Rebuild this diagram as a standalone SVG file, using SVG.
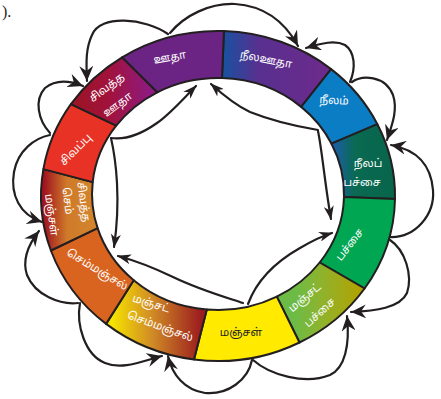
<svg xmlns="http://www.w3.org/2000/svg" width="441" height="399" viewBox="0 0 441 399">
<style>
.seg{stroke:#231f20;stroke-width:2;stroke-linejoin:round}
.lbl{font-family:"Noto Sans Tamil","Lohit Tamil","Latha","Noto Sans",sans-serif;font-size:11px;fill:#ffffff;text-anchor:middle;dominant-baseline:central}
.con path{fill:none;stroke:#231f20;stroke-width:2.2;stroke-linecap:round}
.in{marker-end:url(#ah)}
.out{marker-end:url(#ah2)}
</style>
<defs>
<marker id="ah" viewBox="0 0 14 10" refX="13" refY="5" markerWidth="14" markerHeight="10" markerUnits="userSpaceOnUse" orient="auto">
<path d="M0,0 L14,5 L0,10 L4,5 Z" fill="#231f20"/>
</marker>
<marker id="ah2" viewBox="0 0 16 14" refX="15" refY="7" markerWidth="16" markerHeight="14" markerUnits="userSpaceOnUse" orient="auto">
<path d="M0,0 L15,7 L0,14 L5,7 Z" fill="#231f20"/>
</marker>
<linearGradient id="gBV" gradientUnits="userSpaceOnUse" x1="224" y1="0" x2="330" y2="0">
<stop offset="0" stop-color="#1a50a0"/><stop offset="0.32" stop-color="#58308f"/><stop offset="1" stop-color="#6d2a8c"/>
</linearGradient>
<linearGradient id="gBG" gradientUnits="userSpaceOnUse" x1="333" y1="0" x2="395" y2="0">
<stop offset="0" stop-color="#1b5ea9"/><stop offset="0.35" stop-color="#0a6a52"/><stop offset="1" stop-color="#06654a"/>
</linearGradient>
<linearGradient id="gYG" gradientUnits="userSpaceOnUse" x1="295" y1="0" x2="362" y2="0">
<stop offset="0" stop-color="#6cbb46"/><stop offset="0.4" stop-color="#8fb32c"/><stop offset="1" stop-color="#b3a100"/>
</linearGradient>
<linearGradient id="gYO" gradientUnits="userSpaceOnUse" x1="112" y1="0" x2="202" y2="0">
<stop offset="0" stop-color="#f6e300"/><stop offset="0.45" stop-color="#d08a26"/><stop offset="1" stop-color="#9b1a1e"/>
</linearGradient>
<linearGradient id="gRO" gradientUnits="userSpaceOnUse" x1="44" y1="0" x2="95" y2="0">
<stop offset="0" stop-color="#a0141f"/><stop offset="0.45" stop-color="#cf7a2a"/><stop offset="1" stop-color="#d3852c"/>
</linearGradient>
<linearGradient id="gRV" gradientUnits="userSpaceOnUse" x1="75" y1="0" x2="152" y2="0">
<stop offset="0" stop-color="#9c1426"/><stop offset="0.45" stop-color="#a1123c"/><stop offset="1" stop-color="#8d1b83"/>
</linearGradient>
</defs>
<rect width="441" height="399" fill="#ffffff"/>
<text x="2" y="17" font-family="Liberation Serif" font-size="16" fill="#231f20">).</text>

<g id="node-neelaoodha">
<path class="seg" fill="url(#gBV)" d="M223.9,31.1 A177,165 0 0 1 331.1,69.1 L301.2,106.9 A126,116 0 0 0 222,78.1 Z"/>
<text class="lbl" transform="translate(266,60) rotate(11)">நீலஊதா</text>
</g>
<g id="node-neelam">
<path class="seg" fill="#0b7dc5" d="M331.1,69.1 A177,165 0 0 1 377.4,124.2 L331.5,143.7 A126,116 0 0 0 301.2,106.9 Z"/>
<text class="lbl" transform="translate(334,101) rotate(3)">நீலம்</text>
</g>
<g id="node-neelappachai">
<path class="seg" fill="url(#gBG)" d="M377.4,124.2 A177,165 0 0 1 395,198.9 L344,197 A126,116 0 0 0 331.5,143.7 Z"/>
<text class="lbl" transform="translate(368,164)">நீலப்</text>
<text class="lbl" transform="translate(362,183)">பச்சை</text>
</g>
<g id="node-pachai">
<path class="seg" fill="#00a651" d="M395,198.9 A177,165 0 0 1 364.6,288.5 L319.7,262.5 A126,116 0 0 0 344,197 Z"/>
<text class="lbl" transform="translate(350,245) rotate(-52)">பச்சை</text>
</g>
<g id="node-manjatpachai">
<path class="seg" fill="url(#gYG)" d="M364.6,288.5 A177,165 0 0 1 299.5,342.5 L276.8,296.6 A126,116 0 0 0 319.7,262.5 Z"/>
<text class="lbl" transform="translate(305,298) rotate(-40)">மஞ்சட்</text>
<text class="lbl" transform="translate(320,313) rotate(-42)">பச்சை</text>
</g>
<g id="node-manjal">
<path class="seg" fill="#ffea00" d="M299.5,342.5 A177,165 0 0 1 194,359.5 L206.8,309.5 A126,116 0 0 0 276.8,296.6 Z"/>
<text class="lbl" style="fill:#231f20" transform="translate(241,333)">மஞ்சள்</text>
</g>
<g id="node-manjatsemmanjal">
<path class="seg" fill="url(#gYO)" d="M194,359.5 A177,165 0 0 1 106.1,323.9 L133.7,280.2 A126,116 0 0 0 206.8,309.5 Z"/>
<text class="lbl" transform="translate(151,304) rotate(17)">மஞ்சட்</text>
<text class="lbl" transform="translate(160,327) rotate(20)">செம்மஞ்சல்</text>
</g>
<g id="node-semmanjal">
<path class="seg" fill="#d8641f" d="M106.1,323.9 A177,165 0 0 1 50.9,250.5 L97.6,228.1 A126,116 0 0 0 133.7,280.2 Z"/>
<text class="lbl" transform="translate(97,270) rotate(31)">செம்மஞ்சல்</text>
</g>
<g id="node-sivaththasemmanjal">
<path class="seg" fill="url(#gRO)" d="M50.9,250.5 A177,165 0 0 1 43.4,169.1 L92.7,182.1 A126,116 0 0 0 97.6,228.1 Z"/>
<text class="lbl" transform="translate(83,202) rotate(82)">சிவத்த</text>
<text class="lbl" transform="translate(67,201) rotate(82)">செம்</text>
<text class="lbl" transform="translate(51,215) rotate(82)">மஞ்சள்</text>
</g>
<g id="node-sivappu">
<path class="seg" fill="#e93226" d="M43.4,169.1 A177,165 0 0 1 70.9,104.2 L116.2,125.7 A126,116 0 0 0 92.7,182.1 Z"/>
<text class="lbl" transform="translate(76,150) rotate(-45)">சிவப்பு</text>
</g>
<g id="node-sivaththaoodha">
<path class="seg" fill="url(#gRV)" d="M70.9,104.2 A177,165 0 0 1 122.1,57.3 L157.3,92.3 A126,116 0 0 0 116.2,125.7 Z"/>
<text class="lbl" transform="translate(107,88) rotate(-37)">சிவத்த</text>
<text class="lbl" transform="translate(118,105) rotate(-37)">ஊதா</text>
</g>
<g id="node-oodha">
<path class="seg" fill="#6b2484" d="M122.1,57.3 A177,165 0 0 1 223.9,31.1 L222,78.1 A126,116 0 0 0 157.3,92.3 Z"/>
<text class="lbl" transform="translate(170,58) rotate(-10)">ஊதா</text>
</g>

<g id="connectors" class="con">
<path class="in" d="M111,138 C125,140 140,135 157,123 C170,114 182,100 196,86"/>
<path class="in" d="M111,138 C116,160 121,200 114,247"/>
<path class="in" d="M318,130 C300,127 275,122 250,112 C235,105 222,94 211,84"/>
<path class="in" d="M318,131 C322,150 325,185 331,219"/>
<path class="in" d="M243,303 C225,297 200,290 173,277 C150,266 133,260 118,256"/>
<path class="in" d="M248,304 C255,285 270,265 300,248 C312,241 322,236 332,233"/>

<path class="out" d="M168,34 C145,18 100,14 92,35 C86,48 86,60 87,81"/>
<path class="out" d="M170,33 C185,15 210,3 235,4 C265,6 285,22 298,46"/>
<path class="out" d="M350,82 C356,68 355,52 345,45 C335,40 322,43 306,48"/>
<path class="out" d="M352,82 C362,75 385,75 393,95 C398,110 392,125 387,140"/>
<path class="out" d="M390,237 C415,238 435,215 433,190 C431,165 418,150 391,145"/>
<path class="out" d="M390,240 C405,250 413,275 407,293 C400,308 375,311 351,312"/>
<path class="out" d="M253,360 C270,375 305,385 330,375 C345,368 350,345 347,316"/>
<path class="out" d="M252,360 C248,380 228,395 205,393 C185,390 172,375 168,356"/>
<path class="out" d="M80,303 C76,325 85,355 105,363 C122,370 140,362 162,356"/>
<path class="out" d="M78,303 C60,305 35,295 27,275 C22,260 28,245 39,231"/>
<path class="out" d="M50,135 C35,138 18,150 14,172 C10,195 20,215 42,222"/>
<path class="out" d="M50,133 C38,120 34,100 45,88 C55,80 68,80 83,86"/>
</g>
</svg>
